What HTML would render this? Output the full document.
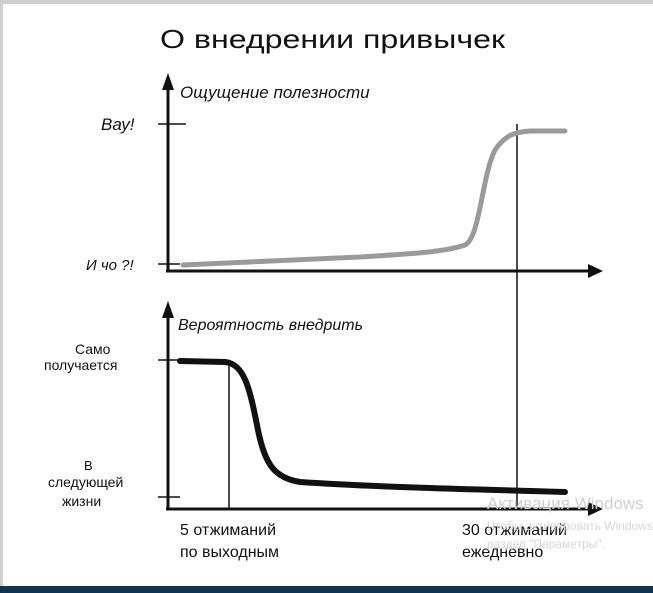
<!DOCTYPE html>
<html><head><meta charset="utf-8"><style>
html,body{margin:0;padding:0;width:653px;height:593px;overflow:hidden;background:#fff}
svg{display:block}
text{font-family:"Liberation Sans","DejaVu Sans",sans-serif;fill:#111}
</style></head><body>
<svg width="653" height="593" viewBox="0 0 653 593">
<rect x="0" y="0" width="653" height="593" fill="#fff"/>
<rect x="0" y="0" width="653" height="4" fill="#cfcfcf"/>
<rect x="0" y="0" width="3" height="593" fill="#cfcfcf"/>
<rect x="0" y="586" width="653" height="7" fill="#0f3350"/>
<text x="160" y="48" font-size="26" textLength="345" lengthAdjust="spacingAndGlyphs">О  внедрении  привычек</text>
<g stroke="#111" stroke-width="3" fill="none">
<line x1="168" y1="80" x2="168" y2="271"/>
<line x1="166" y1="271" x2="598" y2="271"/>
<line x1="168" y1="307" x2="168" y2="509"/>
<line x1="166" y1="509" x2="598" y2="509"/>
</g>
<polygon points="168,73 162,90 174,90" fill="#111"/>
<polygon points="603,271 588,264 588,278" fill="#111"/>
<polygon points="168,301 162,318 174,318" fill="#111"/>
<polygon points="603,509 588,502 588,516" fill="#111"/>
<g stroke="#111" stroke-width="1.5">
<line x1="158" y1="124" x2="186" y2="124"/>
<line x1="158" y1="264" x2="180" y2="264"/>
<line x1="158" y1="360" x2="180" y2="360"/>
<line x1="158" y1="497" x2="180" y2="497"/>
<line x1="517" y1="124" x2="517" y2="509"/>
<line x1="229" y1="365" x2="229" y2="509"/>
</g>
<path d="M183 265 C260 262 320 259 360 257 C410 254 445 252 465 245 C480 238 482 175 495 150 C505 135 515 132 530 131 L565 131" stroke="#9a9a9a" stroke-width="5" fill="none" stroke-linecap="round"/>
<path d="M180 361 L225 362 C245 364 250 390 258 430 C265 465 275 478 300 482 C360 486 420 488 565 492" stroke="#111" stroke-width="6" fill="none" stroke-linecap="round"/>
<text x="180" y="98" font-size="17" font-style="italic">Ощущение полезности</text>
<text x="101" y="130" font-size="17" font-style="italic">Вау!</text>
<text x="86" y="270" font-size="15" font-style="italic">И чо ?!</text>
<text x="178" y="330" font-size="16" font-style="italic">Вероятность внедрить</text>
<text x="75" y="354" font-size="14">Само</text>
<text x="44" y="370" font-size="14">получается</text>
<text x="84" y="470" font-size="13">В</text>
<text x="48" y="487" font-size="14">следующей</text>
<text x="62" y="506" font-size="14">жизни</text>
<text x="180" y="535" font-size="16">5 отжиманий</text>
<text x="180" y="557" font-size="16">по выходным</text>
<text x="462" y="535" font-size="16">30 отжиманий</text>
<text x="462" y="557" font-size="16">ежедневно</text>
<text x="487" y="509" font-size="17" style="fill:#cfcfcf">Активация Windows</text>
<text x="487" y="530" font-size="12" style="fill:#d6d6d6">Чтобы активировать Windows</text>
<text x="487" y="548" font-size="12" style="fill:#d6d6d6">раздел "Параметры".</text>
</svg>
</body></html>
